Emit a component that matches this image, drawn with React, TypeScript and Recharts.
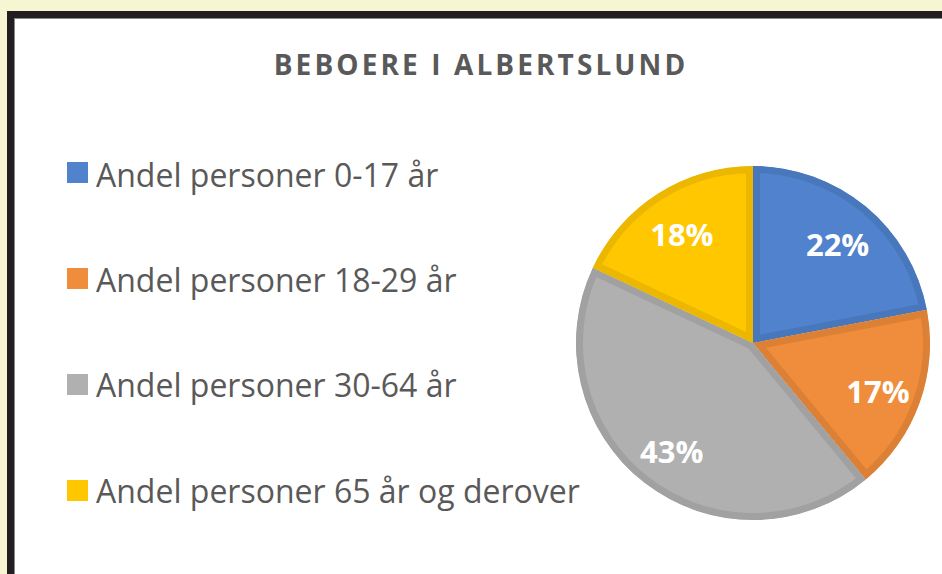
import React from 'react';
import { PieChart, Pie, Cell, Sector } from 'recharts';

const chartTitle = 'BEBOERE I ALBERTSLUND';
const categories = [
  'Andel personer 0-17 år',
  'Andel personer 18-29 år',
  'Andel personer 30-64 år',
  'Andel personer 65 år og derover',
];
const shares = [22, 17, 43, 18];
const fills = ['#5182cd', '#f08d3d', '#b0b0b0', '#ffc700'];
const strokes = ['#4878bb', '#dc8035', '#a1a1a1', '#ebb700'];

const data = categories.map((name, i) => ({ name, value: shares[i] }));

const FONT = '"Open Sans", "Noto Sans", sans-serif';

const renderSector = (props: any) => {
  const { cx, cy, innerRadius, outerRadius, startAngle, endAngle, fill, stroke } = props;
  const key = `${Math.round(startAngle * 100)}-${Math.round(endAngle * 100)}`;
  const id = `slice-clip-${key}`.replace(/[^a-zA-Z0-9-]/g, '_');
  const geo = { cx, cy, innerRadius, outerRadius, startAngle, endAngle };
  return (
    <g>
      <defs>
        <clipPath id={id}>
          <Sector {...geo} />
        </clipPath>
      </defs>
      <Sector {...geo} fill={fill} stroke={stroke} strokeWidth={14} clipPath={`url(#${id})`} />
    </g>
  );
};

const renderLabel = (p: any) => {
  const RAD = Math.PI / 180;
  const r = p.outerRadius * 0.75;
  const x = p.cx + r * Math.cos(-p.midAngle * RAD);
  const y = p.cy + r * Math.sin(-p.midAngle * RAD);
  return (
    <text
      x={x}
      y={y + 3}
      fill="#ffffff"
      textAnchor="middle"
      dominantBaseline="central"
      fontFamily={FONT}
      fontWeight={700}
      fontSize={31}
    >
      {`${Math.round(p.percent * 100)}%`}
    </text>
  );
};

export default function App() {
  return (
    <div style={{ position: 'fixed', left: 0, top: 0, width: 942, height: 574, background: '#f6f6d2', overflow: 'hidden' }}>
      <div
        style={{
          position: 'absolute',
          left: 7,
          top: 11,
          width: 980,
          height: 620,
          background: '#ffffff',
          borderLeft: '7px solid #231f20',
          borderTop: '7px solid #231f20',
          boxShadow: 'inset 1px 1px 0 #8a8a8a',
        }}
      />
      <div
        style={{
          position: 'absolute',
          left: 0,
          width: 962,
          top: 45,
          textAlign: 'center',
          fontFamily: FONT,
          fontWeight: 700,
          fontSize: 28,
          lineHeight: '38px',
          letterSpacing: 3.1,
          color: '#595959',
          whiteSpace: 'nowrap',
        }}
      >
        {chartTitle}
      </div>
      {categories.map((c, i) => (
        <React.Fragment key={c}>
          <div
            style={{
              position: 'absolute',
              left: 67,
              top: 162 + i * 106,
              width: 21,
              height: 21,
              background: fills[i],
            }}
          />
          <div
            style={{
              position: 'absolute',
              left: 96,
              top: 158.6 + i * 105.3,
              fontFamily: FONT,
              fontSize: 32,
              lineHeight: '32px',
              color: '#595959',
              whiteSpace: 'nowrap',
            }}
          >
            {c}
          </div>
        </React.Fragment>
      ))}
      <div style={{ position: 'absolute', left: 0, top: 0 }}>
        <PieChart width={942} height={574} margin={{ top: 0, right: 0, bottom: 0, left: 0 }}>
          <Pie
            data={data}
            dataKey="value"
            nameKey="name"
            cx={753}
            cy={343}
            innerRadius={0}
            outerRadius={177}
            startAngle={90}
            endAngle={-270}
            strokeWidth={2}
            labelLine={false}
            label={renderLabel}
            shape={renderSector}
            activeShape={renderSector}
            isAnimationActive={false}
          >
            {data.map((d, i) => (
              <Cell key={d.name} fill={fills[i]} stroke={strokes[i]} />
            ))}
          </Pie>
        </PieChart>
      </div>
    </div>
  );
}
